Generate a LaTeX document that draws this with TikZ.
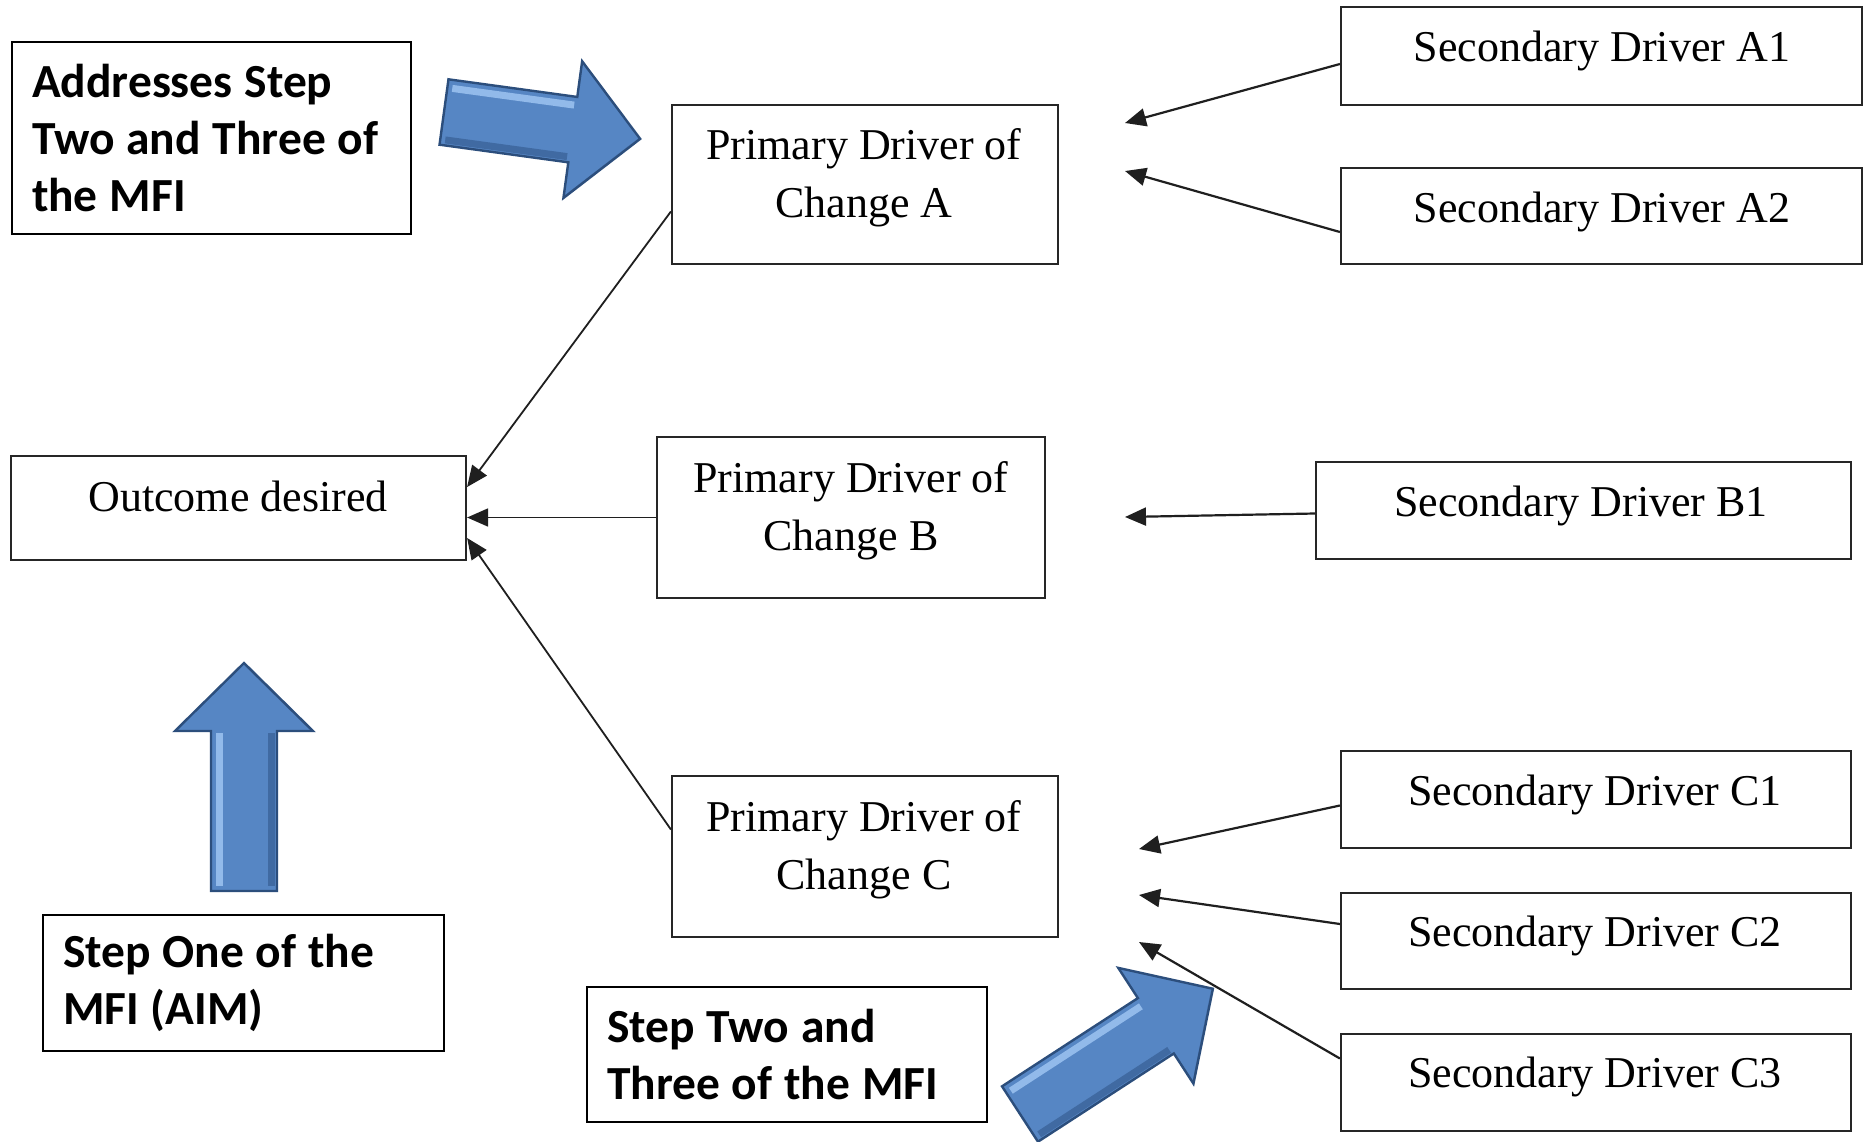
\documentclass[tikz,border=0pt]{standalone}
\usepackage{fontspec}
\setmainfont{Liberation Serif}
\newfontfamily\notefont{Carlito}
\usetikzlibrary{arrows.meta}

\definecolor{arrowblue}{RGB}{86,134,196}
\definecolor{arrowdark}{RGB}{44,78,124}
\definecolor{arrowlight}{RGB}{146,186,234}
\definecolor{arrowshade}{RGB}{64,106,162}

% Bevelled block arrow: tail centre (#1,#2), direction #3 (degrees), length #4
\newcommand{\bluearrow}[4]{%
  \begin{scope}[shift={(#1,#2)}, rotate=#3]
    \fill[arrowblue] (0,-33) -- ({#4-68},-33) -- ({#4-68},-69) -- (#4,0)
      -- ({#4-68},69) -- ({#4-68},33) -- (0,33) -- cycle;
    \fill[arrowlight] (5,-28) -- ({#4-70},-28) -- ({#4-70},-21) -- (5,-21) -- cycle;
    \fill[arrowshade] (5,24) -- ({#4-70},24) -- ({#4-70},31) -- (5,31) -- cycle;
    \fill[arrowshade] ({#4-62},61) -- ({#4-6},4) -- ({#4-2},0) -- ({#4-66},66) -- cycle;
    \draw[arrowdark, line width=2.4pt, line join=miter]
      (0,-33) -- ({#4-68},-33) -- ({#4-68},-69) -- (#4,0)
      -- ({#4-68},69) -- ({#4-68},33) -- (0,33) -- cycle;
  \end{scope}}

\begin{document}
\begin{tikzpicture}[x=1pt,y=-1pt,
  drvbox/.style={draw=black!85, line width=2.2pt, fill=white, inner sep=0pt},
  drvtext/.style={font=\fontsize{44}{58}\selectfont, align=center, inner sep=0pt, text=black},
  notebox/.style={draw=black, line width=2pt, fill=white, inner xsep=20pt, inner ysep=0pt,
    align=left, font=\notefont\bfseries\fontsize{47.5}{57}\selectfont,
    execute at begin node={\spaceskip=0.25em\relax}},
  link/.style={line width=1.8pt, draw=black!88, -{Triangle[length=21pt,width=18pt]}},
]
\fill[white] (0,0) rectangle (1864,1141);
\useasboundingbox (0,0) rectangle (1864,1141);

% outcome
\node[drvbox, minimum width=455, minimum height=104] (out) at (238.5,508) {};
\node[drvtext] (out-t) at (238,496) {Outcome desired};

% primary drivers
\node[drvbox, minimum width=386, minimum height=159] (pa) at (865,184.5) {};
\node[drvtext] (pa-t) at (864,178) {Primary Driver of\\Change A};
\node[drvbox, minimum width=388, minimum height=161] (pb) at (851,517.5) {};
\node[drvtext] (pb-t) at (851,511) {Primary Driver of\\Change B};
\node[drvbox, minimum width=386, minimum height=161] (pc) at (865,856.5) {};
\node[drvtext] (pc-t) at (864,850) {Primary Driver of\\Change C};

% secondary drivers
\node[drvbox, minimum width=521, minimum height=98] (sa1) at (1601.5,56) {};
\node[drvtext] (sa1-t) at (1602,51) {Secondary Driver A1};
\node[drvbox, minimum width=521, minimum height=96] (sa2) at (1601.5,216) {};
\node[drvtext] (sa2-t) at (1602,212) {Secondary Driver A2};
\node[drvbox, minimum width=535, minimum height=97] (sb1) at (1583.5,510.5) {};
\node[drvtext] (sb1-t) at (1581,506) {Secondary Driver B1};
\node[drvbox, minimum width=510, minimum height=97] (sc1) at (1596,799.5) {};
\node[drvtext] (sc1-t) at (1595,795) {Secondary Driver C1};
\node[drvbox, minimum width=510, minimum height=96] (sc2) at (1596,941) {};
\node[drvtext] (sc2-t) at (1595,936) {Secondary Driver C2};
\node[drvbox, minimum width=510, minimum height=97] (sc3) at (1596,1082.5) {};
\node[drvtext] (sc3-t) at (1595,1077) {Secondary Driver C3};

% explanatory notes
\node[notebox, minimum width=399, minimum height=192, text width=359] (addr) at (211.5,138)
  {Addresses Step\\Two and Three of\\the MFI};
\node[notebox, minimum width=401, minimum height=136, text width=361] (aim) at (243.5,983)
  {Step One of the\\MFI (AIM)};
\node[notebox, minimum width=400, minimum height=135, text width=360] (step23) at (787,1054.5)
  {Step Two and\\Three of the MFI};

% primary drivers feed the outcome
\draw[link] ([yshift=-27pt]pa.west) -- ([yshift=21pt]out.east);
\draw[link] (pb.west) -- (pb.west -| out.east);
\draw[link] ([yshift=27pt]pc.west) -- ([yshift=-30pt]out.east);

% secondary drivers point towards their primary driver
\coordinate (ta1) at (1125,123);
\coordinate (ta2) at (1125,171);
\coordinate (tb1) at (1125,517);
\coordinate (tc1) at (1139,849);
\coordinate (tc2) at (1139,895);
\coordinate (tc3) at (1139,942);
\draw[link, line width=2.2pt] ([yshift=-8pt]sa1.west) -- (ta1);
\draw[link, line width=2.2pt] ([yshift=-16pt]sa2.west) -- (ta2);
\draw[link, line width=2.2pt] ([yshift=-3pt]sb1.west) -- (tb1);
\draw[link, line width=2.2pt] ([yshift=-6pt]sc1.west) -- (tc1);
\draw[link, line width=2.2pt] ([yshift=17pt]sc2.west) -- (tc2);
\draw[link, line width=2.2pt] ([yshift=24pt]sc3.west) -- (tc3);

% block arrows
\bluearrow{444}{112}{-7.8}{198}
\bluearrow{244}{891}{90}{228}
\bluearrow{1020}{1114}{33}{230}
\end{tikzpicture}
\end{document}
